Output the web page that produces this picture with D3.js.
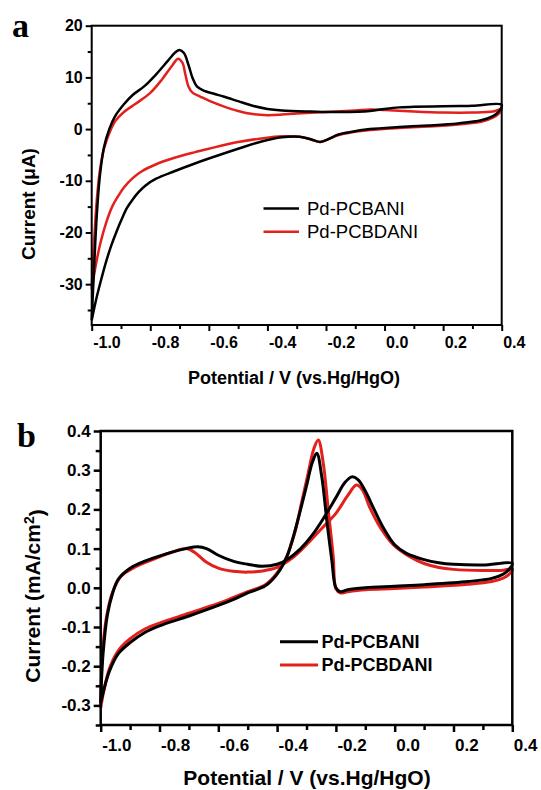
<!DOCTYPE html>
<html>
<head>
<meta charset="utf-8">
<script src="https://cdn.jsdelivr.net/npm/d3@7"></script>
<style>
  html, body { margin: 0; padding: 0; background: #fff; }
  svg { display: block; }
  text { font-family: "Liberation Sans", Arial, sans-serif; }
</style>
</head>
<body>
<svg id="chart" width="541" height="790"></svg>
<script>
// tick values
const xTicks = [-1.0, -0.8, -0.6, -0.4, -0.2, 0.0, 0.2, 0.4];
const xMinor = [-0.9, -0.7, -0.5, -0.3, -0.1, 0.1, 0.3];
const yTicksA = [-30, -20, -10, 0, 10, 20];
const yMinorA = [-35, -25, -15, -5, 5, 15];
const yTicksB = [-0.3, -0.2, -0.1, 0.0, 0.1, 0.2, 0.3, 0.4];
const yMinorB = [-0.35, -0.25, -0.15, -0.05, 0.05, 0.15, 0.25, 0.35];
const seriesNames = ["Pd-PCBANI", "Pd-PCBDANI"];

// panel a: [potential V, current µA], forward scan then reverse scan
const pcbaniA = [
  [-1.0, -37], [-0.992, -27], [-0.983, -17], [-0.972, -9], [-0.958, -3.5], [-0.94, 0], [-0.92, 2.5],
  [-0.89, 4.8], [-0.86, 6.6], [-0.82, 8.3], [-0.78, 10.6], [-0.74, 13.2], [-0.715, 14.8], [-0.7, 15.3],
  [-0.685, 14.7], [-0.67, 12.5], [-0.655, 9.8], [-0.64, 8.2], [-0.62, 7.5], [-0.58, 6.8], [-0.55, 6.3],
  [-0.5, 5.4], [-0.45, 4.5], [-0.4, 3.9], [-0.35, 3.6], [-0.25, 3.4], [-0.15, 3.3], [-0.05, 3.5],
  [0.0, 3.9], [0.05, 4.2], [0.1, 4.3], [0.2, 4.4], [0.3, 4.5], [0.4, 4.7],
  [0.39, 3.4], [0.37, 2.5], [0.33, 1.7], [0.25, 1.1], [0.15, 0.7], [0.05, 0.4], [-0.05, 0.0],
  [-0.12, -0.6], [-0.16, -1.1], [-0.19, -1.9], [-0.22, -2.5], [-0.25, -2.0], [-0.29, -1.5],
  [-0.35, -1.6], [-0.42, -2.4], [-0.5, -3.8], [-0.6, -5.7], [-0.65, -6.7], [-0.72, -8.2],
  [-0.78, -9.6], [-0.816, -10.9], [-0.84, -12.2], [-0.86, -13.6], [-0.88, -15.3], [-0.898, -17.5],
  [-0.915, -19.8], [-0.933, -22.5], [-0.95, -25.5], [-0.968, -29.2], [-0.985, -33], [-1.0, -37]
];
const pcbdaniA = [
  [-1.0, -31], [-0.992, -22], [-0.983, -14], [-0.972, -8], [-0.958, -3.8], [-0.94, -0.8], [-0.92, 1.5],
  [-0.89, 3.3], [-0.85, 4.9], [-0.8, 7.0], [-0.76, 9.6], [-0.725, 12.3], [-0.705, 13.6],
  [-0.69, 12.8], [-0.68, 10.5], [-0.67, 8.3], [-0.655, 7.0], [-0.63, 6.3], [-0.6, 5.5], [-0.55, 4.4],
  [-0.5, 3.5], [-0.45, 2.9], [-0.4, 2.7], [-0.35, 2.8], [-0.3, 3.0], [-0.2, 3.3], [-0.1, 3.6],
  [-0.05, 3.8], [0.0, 3.7], [0.1, 3.4], [0.2, 3.2], [0.3, 3.2], [0.37, 3.4], [0.4, 3.9],
  [0.39, 3.0], [0.37, 2.2], [0.33, 1.4], [0.25, 0.9], [0.15, 0.5], [0.05, 0.2], [-0.05, -0.2],
  [-0.12, -0.7], [-0.16, -1.2], [-0.19, -1.9], [-0.22, -2.5], [-0.25, -2.0], [-0.29, -1.5],
  [-0.35, -1.4], [-0.42, -1.8], [-0.5, -2.5], [-0.6, -3.8], [-0.65, -4.5], [-0.72, -5.6],
  [-0.78, -6.8], [-0.83, -8.2], [-0.86, -9.5], [-0.89, -11.3], [-0.91, -13], [-0.93, -15],
  [-0.95, -18], [-0.97, -22], [-0.985, -26], [-1.0, -31]
];

// panel b: [potential V, current mA/cm²]
const pcbaniB = [
  [-1.0, -0.294], [-0.995, -0.2], [-0.988, -0.135], [-0.977, -0.068], [-0.96, -0.015], [-0.94, 0.022],
  [-0.9, 0.05], [-0.85, 0.068], [-0.78, 0.086], [-0.71, 0.1], [-0.67, 0.105], [-0.64, 0.1],
  [-0.6, 0.083], [-0.55, 0.068], [-0.5, 0.06], [-0.45, 0.055], [-0.4, 0.06], [-0.36, 0.075],
  [-0.32, 0.1], [-0.28, 0.135], [-0.24, 0.18], [-0.2, 0.23], [-0.17, 0.268], [-0.146, 0.283],
  [-0.125, 0.276], [-0.1, 0.247], [-0.07, 0.2], [-0.04, 0.155], [0.0, 0.11], [0.04, 0.088],
  [0.1, 0.072], [0.15, 0.064], [0.2, 0.06], [0.3, 0.058], [0.4, 0.062],
  [0.39, 0.048], [0.37, 0.035], [0.33, 0.024], [0.25, 0.016], [0.1, 0.008], [0.0, 0.004],
  [-0.1, 0.0], [-0.16, -0.005], [-0.185, -0.01], [-0.2, 0.0], [-0.214, 0.071], [-0.231, 0.172],
  [-0.248, 0.283], [-0.265, 0.343], [-0.28, 0.32], [-0.3, 0.26], [-0.32, 0.2], [-0.345, 0.13],
  [-0.367, 0.079], [-0.4, 0.035], [-0.44, 0.005], [-0.5, -0.013], [-0.55, -0.03], [-0.6, -0.045],
  [-0.7, -0.072], [-0.8, -0.097], [-0.85, -0.114], [-0.9, -0.14], [-0.94, -0.168], [-0.97, -0.212],
  [-0.99, -0.262], [-1.0, -0.294]
];
const pcbdaniB = [
  [-1.0, -0.307], [-0.996, -0.2], [-0.99, -0.13], [-0.978, -0.065], [-0.96, -0.012], [-0.93, 0.03],
  [-0.89, 0.05], [-0.83, 0.07], [-0.76, 0.09], [-0.71, 0.1], [-0.68, 0.09], [-0.64, 0.065],
  [-0.6, 0.05], [-0.55, 0.042], [-0.5, 0.04], [-0.45, 0.043], [-0.4, 0.052], [-0.35, 0.075],
  [-0.3, 0.11], [-0.25, 0.15], [-0.2, 0.19], [-0.16, 0.235], [-0.13, 0.262], [-0.11, 0.25],
  [-0.085, 0.205], [-0.05, 0.155], [-0.005, 0.11], [0.05, 0.08], [0.1, 0.062], [0.15, 0.052],
  [0.2, 0.047], [0.3, 0.044], [0.37, 0.045], [0.4, 0.048],
  [0.39, 0.035], [0.37, 0.025], [0.33, 0.016], [0.25, 0.009], [0.1, 0.002], [0.0, -0.002],
  [-0.1, -0.005], [-0.16, -0.01], [-0.185, -0.013], [-0.2, -0.002], [-0.209, 0.079], [-0.226, 0.198],
  [-0.243, 0.318], [-0.26, 0.377], [-0.275, 0.355], [-0.295, 0.29], [-0.316, 0.22], [-0.34, 0.14],
  [-0.37, 0.075], [-0.4, 0.038], [-0.44, 0.008], [-0.5, -0.01], [-0.55, -0.025], [-0.6, -0.04],
  [-0.7, -0.065], [-0.8, -0.09], [-0.85, -0.105], [-0.9, -0.13], [-0.94, -0.16], [-0.97, -0.205],
  [-0.99, -0.265], [-1.0, -0.307]
];

const colors = ["#000000", "#e3201b"];
const svg = d3.select("#chart");

function panel(o) {
  const x = d3.scaleLinear().domain([-1.0, 0.4]).range([o.left, o.right]);
  const y = d3.scaleLinear().domain(o.yDomain).range([o.bottom, o.top]);
  const g = svg.append("g");

  // curves (red first so black sits on top where they overlap)
  const line = d3.line().x(d => x(d[0])).y(d => y(d[1])).curve(d3.curveCatmullRom.alpha(0.5));
  [o.series[1], o.series[0]].forEach((s, i) => {
    g.append("path").attr("d", line(s)).attr("fill", "none")
      .attr("stroke", colors[1 - i]).attr("stroke-width", o.lw).attr("stroke-linejoin", "round");
  });

  // bottom axis, labels start at the tick (as in the original)
  const xa = g.append("g").attr("transform", `translate(0,${o.bottom})`)
    .call(d3.axisBottom(x).tickValues(xTicks).tickSize(o.tick).tickSizeOuter(0)
      .tickPadding(o.xPad).tickFormat(d => d.toFixed(1)));
  xa.selectAll("text").attr("text-anchor", "start").attr("dx", 1);
  g.append("g").attr("transform", `translate(0,${o.bottom})`)
    .call(d3.axisBottom(x).tickValues(xMinor).tickSize(o.tick - 2).tickSizeOuter(0).tickFormat(""));

  // left axis
  g.append("g").attr("transform", `translate(${o.left},0)`)
    .call(d3.axisLeft(y).tickValues(o.yTicks).tickSize(o.tick).tickSizeOuter(0)
      .tickPadding(3).tickFormat(o.yFmt));
  g.append("g").attr("transform", `translate(${o.left},0)`)
    .call(d3.axisLeft(y).tickValues(o.yMinor).tickSize(o.tick - 2).tickSizeOuter(0).tickFormat(""));

  g.selectAll(".domain").remove();
  g.selectAll(".tick line").attr("stroke", "#000").attr("stroke-width", o.axw);
  g.selectAll(".tick text").attr("fill", "#000").style("font-size", o.tickFs + "px")
    .style("font-weight", "bold");

  // frame
  g.append("rect").attr("x", o.left).attr("y", o.top)
    .attr("width", o.right - o.left).attr("height", o.bottom - o.top)
    .attr("fill", "none").attr("stroke", "#000").attr("stroke-width", o.axw);

  // axis titles
  g.append("text").attr("x", o.xLab[0]).attr("y", o.xLab[1]).attr("text-anchor", "middle")
    .style("font-size", o.labFs + "px").style("font-weight", "bold")
    .text("Potential / V (vs.Hg/HgO)");
  const yl = g.append("text").attr("transform", `translate(${o.yLab[0]},${o.yLab[1]}) rotate(-90)`)
    .attr("text-anchor", "middle").attr("dy", "0.35em")
    .style("font-size", o.yLabFs + "px").style("font-weight", "bold");
  o.yTitle(yl);

  // panel letter
  g.append("text").attr("x", o.letter[0]).attr("y", o.letter[1])
    .style("font-family", "'Liberation Serif', 'Times New Roman', serif")
    .style("font-size", "34px").style("font-weight", "bold").text(o.name);

  // legend
  seriesNames.forEach((n, i) => {
    const ly = o.leg[1] + i * o.leg[3];
    g.append("line").attr("x1", o.leg[0]).attr("x2", o.leg[0] + o.leg[2])
      .attr("y1", ly).attr("y2", ly).attr("stroke", colors[i]).attr("stroke-width", o.lw);
    g.append("text").attr("x", o.leg[0] + o.leg[2] + o.leg[4]).attr("y", ly).attr("dy", "0.36em")
      .style("font-size", o.legFs + "px").style("font-weight", o.legW).text(n);
  });
}

panel({
  name: "a", left: 91.7, right: 501.7, top: 25.7, bottom: 325, yDomain: [-37.9, 20],
  yTicks: yTicksA, yMinor: yMinorA, yFmt: d => String(d),
  series: [pcbaniA, pcbdaniA], lw: 2.5, axw: 2, tick: 6, xPad: 6, tickFs: 16, labFs: 18,
  xLab: [294, 384], yLab: [28, 204], yLabFs: 19,
  yTitle: t => t.text("Current (μA)"),
  letter: [12, 37], leg: [263.5, 208.5, 35.5, 23.3, 8], legFs: 18.5, legW: "normal"
});

panel({
  name: "b", left: 100.7, right: 512.3, top: 431, bottom: 725, yDomain: [-0.35, 0.4],
  yTicks: yTicksB, yMinor: yMinorB, yFmt: d => d.toFixed(1),
  series: [pcbaniB, pcbdaniB], lw: 3, axw: 2.5, tick: 7, xPad: 7, tickFs: 17, labFs: 21,
  xLab: [307, 785], yLab: [33, 596], yLabFs: 21,
  yTitle: t => {
    t.append("tspan").text("Current (mA/cm");
    t.append("tspan").attr("dy", "-0.45em").style("font-size", "14px").text("2");
    t.append("tspan").attr("dy", "0.45em").text(")");
  },
  letter: [17, 447], leg: [280, 641.7, 38, 23.3, 3.5], legFs: 18, legW: "bold"
});
</script>
</body>
</html>
